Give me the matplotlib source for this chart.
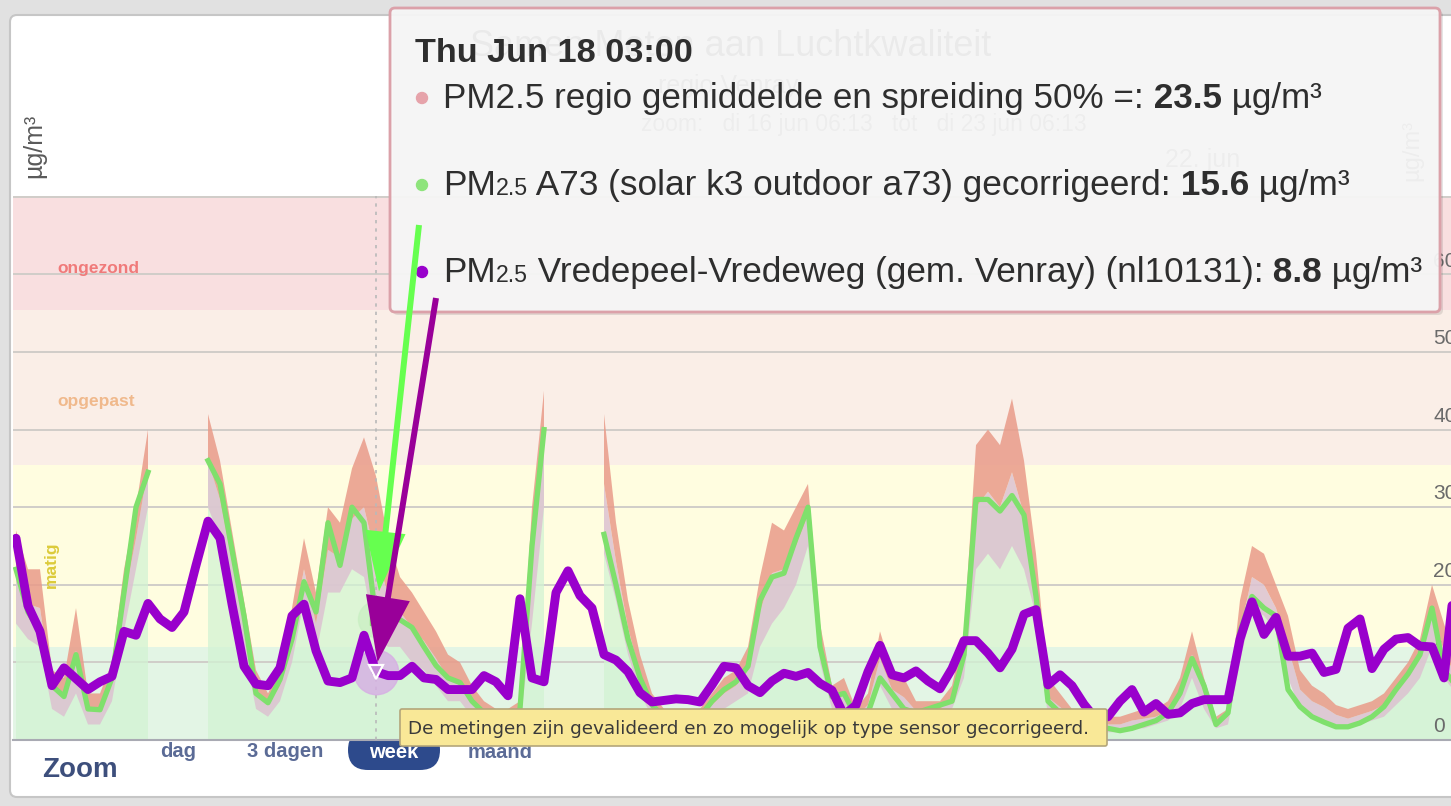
"""
Nabouw van een Highcharts-screenshot: PM2.5 in regio Venray (week 16-23 juni).
Paars = station Vredepeel, groen = sensor A73, rood/roze = regio gemiddelde + spreiding.
"""
import numpy as np
import matplotlib

matplotlib.use("Agg")
import matplotlib.pyplot as plt
from matplotlib.patches import Circle, FancyBboxPatch

plt.rcParams["font.family"] = ["Liberation Sans", "DejaVu Sans"]

nan = np.nan

# --------------------------------------------------------------------------- #
# Data (µg/m³), één waarde per 1.5 uur, afgelezen uit de screenshot
# --------------------------------------------------------------------------- #
STAP_UUR = 1.5

station = [
    26, 17.3, 14, 7, 9.3, 7.9, 6.5, 7.5, 8.2, 14,
    13.5, 17.6, 15.6, 14.5, 16.5, 22.5, 28.2, 26, 17.5, 9.5,
    7.2, 7, 9.3, 16, 17.5, 11.5, 7.6, 7.4, 8, 13.5,
    8.8, 8.3, 8.3, 9.5, 8, 7.8, 6.5, 6.5, 6.5, 8.3,
    7.5, 5.7, 18.2, 8, 7.5, 19, 21.8, 18.6, 17, 11,
    10.3, 8.8, 6.1, 4.9, 5.1, 5.3, 5.2, 4.9, 7.1, 9.5,
    9.3, 7, 6.1, 7.6, 8.6, 8.2, 8.7, 7.3, 6.4, 3.2,
    4.5, 8.8, 12.2, 8.4, 8, 8.9, 7.6, 6.6, 9.2, 12.8,
    12.8, 11.2, 9.3, 11.7, 16.2, 16.8, 7.1, 8.4, 7, 4.6,
    2.7, 3, 5, 6.5, 3.6, 4.7, 3.3, 3.5, 4.7, 5.2,
    5.2, 5.2, 13, 17.8, 13.6, 15.8, 10.8, 10.8, 11.2, 8.7,
    9.1, 14.4, 15.6, 9.2, 11.7, 13, 13.2, 12.1, 12, 8,
    22,
]

sensor = [
    22, 16.5, 14, 7, 5.6, 11, 4, 3.9, 8, 19,
    30, 34.5, nan, nan, nan, nan, 36, 33, 24.5, 16,
    6, 4.8, 7.8, 13, 20.4, 16.5, 28, 22.5, 30, 28,
    15.6, 16, 15.5, 14.5, 12, 9.6, 8, 7.4, 5, 3.5,
    3, 2.5, 4, 25, 40, nan, nan, nan, nan, 26.5,
    20, 13, 8, 4.5, 3, 2.5, 2.5, 3, 5, 6.5,
    7.5, 9.5, 18, 21, 21.5, 26, 30, 12, 5.6, 6,
    3, 3.5, 8, 6, 4, 3.5, 4, 4.5, 5, 11,
    31, 31, 29.5, 31.5, 29, 18.5, 5, 3.5, 2.5, 2,
    1.5, 1.5, 1.2, 1.5, 2, 2.5, 3.5, 6, 10.5, 7,
    2, 3.5, 14, 18.5, 17, 16, 6.5, 4.3, 3, 2.3,
    1.7, 1.7, 2.2, 3, 4.3, 6.5, 8.5, 11, 17, 9,
    7,
]

regio_hoog = [
    27, 22, 22, 9, 8, 17, 6, 6, 10, 22,
    30, 40, nan, nan, nan, nan, 42, 36, 27, 18,
    9, 6, 9, 17, 26, 19, 30, 28, 35, 39,
    34, 26, 21, 19, 16.5, 14, 11, 10, 7, 5,
    4, 4, 5, 30, 45, nan, nan, nan, nan, 42,
    28, 18, 11, 6, 4, 3.5, 3.5, 4, 6, 8,
    9, 12, 21, 28, 27, 30, 33, 15, 7, 8,
    4, 6, 14, 9, 8, 5, 5, 5, 7, 14,
    38, 40, 38, 44, 36, 24, 8, 6, 4, 4,
    3.5, 3, 3, 3.5, 4, 4, 5, 8, 14, 8,
    3, 4, 18, 25, 24, 20, 16, 9, 7, 6,
    4.5, 4, 4.5, 5, 6, 8, 10, 13, 20, 15,
    10,
]

regio_laag = [
    15, 13, 12, 4, 3, 6, 2, 2, 5, 14,
    22, 30, nan, nan, nan, nan, 30, 26, 19, 12,
    4, 3, 5, 10, 18, 11, 19, 19, 22, 21,
    13, 12, 12, 10, 9, 7, 5, 5, 3, 2,
    1.5, 1.5, 2, 15, 30, nan, nan, nan, nan, 24,
    18, 11, 6, 3, 1.5, 1.5, 1.5, 2, 3, 4,
    5, 6, 12, 15, 17, 20, 25, 10, 4, 4,
    2, 3, 7, 4, 3, 2.5, 2.5, 3, 4, 8,
    22, 24, 22, 25, 22, 16, 3, 2.5, 2, 1.5,
    1, 1, 1, 1.5, 1.5, 2, 2.5, 4, 8, 4,
    1.5, 2, 10, 17, 16, 14, 8, 4, 3, 2.5,
    2, 1.5, 2, 2.5, 3, 4.5, 6, 8, 12, 8,
    6,
]

uren = np.arange(len(station)) * STAP_UUR
HOVER = 30  # Thu Jun 18 03:00

band_grenzen = [0, 12, 35.4, 55.4, 150]
band_kleuren = ["#e3f5e5", "#fffde0", "#faeee7", "#f9dfe0"]
y_ticks = [0, 10, 20, 30, 40, 50, 60]

station = np.array(station, dtype=float)
sensor = np.array(sensor, dtype=float)
hoog = np.array(regio_hoog, dtype=float)
laag = np.array(regio_laag, dtype=float)
midden = (hoog + laag) / 2

# --------------------------------------------------------------------------- #
# Opmaak (alles in schermpixels van de screenshot)
# --------------------------------------------------------------------------- #
W, H = 1451, 806
PX_PER_UUR = 8
T0_PX = 16
PLOT_L, PLOT_T, PLOT_R, PLOT_B = 13, 196, 1451, 740

fig = plt.figure(figsize=(W / 100, H / 100), dpi=100, facecolor="#e1e1e1")


def pixel_axes(l, t, r, b, z):
    return fig.add_axes([l / W, 1 - b / H, (r - l) / W, (b - t) / H], zorder=z)


# achtergrond: kaart, titels, zoomknoppen
bg = pixel_axes(0, 0, W, H, 0)
bg.set_xlim(0, W); bg.set_ylim(H, 0); bg.axis("off")
bg.add_patch(FancyBboxPatch((10, 15), 1470, 782, boxstyle="round,pad=0,rounding_size=7",
                            fc="white", ec="#c6c6c6", lw=1.5))
bg.text(731, 47, "Samen Meten aan Luchtkwaliteit", fontsize=26, color="#333333",
        ha="center", va="center")
bg.text(728, 86, "regio Venray", fontsize=18, color="#555555", ha="center", va="center")
bg.text(864, 125, "zoom:   di 16 jun 06:13   tot   di 23 jun 06:13", fontsize=16.5,
        color="#666666", ha="center", va="center")
bg.text(1203, 160, "22. jun", fontsize=18, color="#666666", ha="center", va="center")
bg.text(1412, 150, "µg/m³", fontsize=17, color="#666666", rotation=90, ha="center", va="center")
bg.text(34, 146, "µg/m³", fontsize=18, color="#5a5a5a", rotation=90, ha="center", va="center")

bg.text(42, 777, "Zoom", fontsize=20, fontweight="bold", color="#3d4f7c", va="baseline")
bg.text(160, 757, "dag", fontsize=14.5, fontweight="bold", color="#5b6b96", va="baseline")
bg.text(247, 757, "3 dagen", fontsize=14.5, fontweight="bold", color="#5b6b96", va="baseline")
bg.add_patch(FancyBboxPatch((348, 730), 92, 40, boxstyle="round,pad=0,rounding_size=20",
                            fc="#2d4a8c", ec="none"))
bg.text(394, 758, "week", fontsize=14.5, fontweight="bold", color="white", ha="center",
        va="baseline")
bg.text(468, 758, "maand", fontsize=14.5, fontweight="bold", color="#5b6b96", va="baseline")

# grafiek
ax = pixel_axes(PLOT_L, PLOT_T, PLOT_R, PLOT_B, 1)
ax.set_xlim((PLOT_L - T0_PX) / PX_PER_UUR, (PLOT_R - T0_PX) / PX_PER_UUR)
ax.set_ylim(0, 70.1)
for i, kleur in enumerate(band_kleuren):
    ax.axhspan(band_grenzen[i], band_grenzen[i + 1], color=kleur, lw=0, zorder=0)
for v in range(10, 71, 10):
    ax.axhline(v, color="#d0cdc9", lw=1.4, zorder=0.5)
for s in ["top", "left", "right"]:
    ax.spines[s].set_visible(False)
ax.spines["bottom"].set_color("#a9aab3")
ax.spines["bottom"].set_linewidth(1.5)
ax.set_xticks([]); ax.set_yticks([])

ytrans = ax.get_yaxis_transform()
for v in y_ticks:
    ax.text(0.9875, v + 1.7, str(v), transform=ytrans, fontsize=15, color="#6a6a6a",
            va="center", ha="left", clip_on=False)
ax.text(0.031, 60.8, "ongezond", transform=ytrans, fontsize=12.5, fontweight="bold",
        color="#f07a7a", va="center")
ax.text(0.031, 43.6, "opgepast", transform=ytrans, fontsize=12.5, fontweight="bold",
        color="#f0b98c", va="center")
ax.text(0.027, 22.6, "matig", transform=ytrans, fontsize=12.5, fontweight="bold",
        color="#dccb3a", va="center", ha="center", rotation=90)

ax.fill_between(uren, 0, sensor, color="#d2f3d3", alpha=0.75, lw=0, zorder=1)
ax.fill_between(uren, laag, midden, color="#dcc2d1", alpha=0.85, lw=0, zorder=2)
ax.fill_between(uren, midden, hoog, color="#e99b89", alpha=0.85, lw=0, zorder=2)
ax.plot(uren, sensor, color="#7fe06c", lw=3.8, zorder=3, solid_joinstyle="round")
ax.axvline(uren[HOVER], color="#b9b9b9", lw=1.2, ls=(0, (2, 3)), zorder=3.2)

# hover-markers
ax.plot(uren[HOVER], sensor[HOVER], "o", ms=26, color="#c8efc2", alpha=0.7, zorder=3.3)
ax.plot(uren[HOVER], station[HOVER], "o", ms=32, color="#d7aee4", alpha=0.8, zorder=3.4)
ax.plot(uren, station, color="#9900cc", lw=6.4, zorder=4, solid_joinstyle="round",
        solid_capstyle="round")
ax.plot(uren[HOVER], sensor[HOVER], "s", ms=9, color="#86d96f", zorder=4.5)
ax.plot(uren[HOVER], station[HOVER], "v", ms=10, mfc="#c48ed8", mec="white", mew=1.6,
        zorder=4.6)

# overlay: tooltips en pijlen
ov = pixel_axes(0, 0, W, H, 3)
ov.set_xlim(0, W); ov.set_ylim(H, 0); ov.axis("off")

ov.add_patch(FancyBboxPatch((393, 11), 1050, 304, boxstyle="round,pad=0,rounding_size=5",
                            fc=(0, 0, 0, 0.10), ec="none"))
ov.add_patch(FancyBboxPatch((390, 8), 1050, 304, boxstyle="round,pad=0,rounding_size=5",
                            fc=(0.97, 0.97, 0.97, 0.94), ec="#dba1a9", lw=2))

ov.add_patch(FancyBboxPatch((400, 709), 707, 37, boxstyle="round,pad=0,rounding_size=2",
                            fc="#f9e897", ec="#b4a67a", lw=1.2))

renderer = fig.canvas.get_renderer()


def tekstregel(x, y, delen, breedte, basis=20.0, **kw):
    """Zet tekststukken naast elkaar en schaal ze zodat de regel `breedte` px breed wordt."""
    def zet(grootte):
        stukken, cx = [], x
        for s, rel, vet in delen:
            t = ov.text(cx, y, s, fontsize=grootte * rel, va="baseline", ha="left",
                        fontweight="bold" if vet else "normal", **kw)
            cx += t.get_window_extent(renderer).width
            stukken.append(t)
        return stukken, cx - x

    stukken, w = zet(basis)
    for t in stukken:
        t.remove()
    zet(basis * breedte / w)


TXT = dict(color="#2e2e2e")
tekstregel(415, 62, [("Thu Jun 18 03:00", 1, True)], 278, **TXT)
tekstregel(443, 108, [("PM2.5 regio gemiddelde en spreiding 50% =:", 1, False),
                      (f" {midden[HOVER]:.1f}", 1, True), (" µg/m³", 1, False)], 875, **TXT)
tekstregel(443, 195, [("PM", 1, False), ("2.5", 0.66, False),
                      (" A73 (solar k3 outdoor a73) gecorrigeerd:", 1, False),
                      (f" {sensor[HOVER]:.1f}", 1, True), (" µg/m³", 1, False)], 905, **TXT)
tekstregel(443, 282, [("PM", 1, False), ("2.5", 0.66, False),
                      (" Vredepeel-Vredeweg (gem. Venray) (nl10131):", 1, False),
                      (f" {station[HOVER]:.1f}", 1, True), (" µg/m³", 1, False)], 977, **TXT)
tekstregel(408, 734, [("De metingen zijn gevalideerd en zo mogelijk op type sensor gecorrigeerd.",
                       1, False)], 687, basis=11, family="DejaVu Sans", color="#3a3a3a")

for y, kleur in [(98, "#e6a3aa"), (185, "#8ee47c"), (272, "#9900cc")]:
    ov.add_patch(Circle((422, y), 5.5, color=kleur))

# pijlen naar de hover-punten
ov.annotate("", xy=(uren[HOVER], sensor[HOVER]), xycoords=ax.transData,
            xytext=(419, 225), textcoords=ov.transData,
            arrowprops=dict(arrowstyle="simple,head_length=43,head_width=29,tail_width=4.3",
                            mutation_scale=1, fc="#66ff4f", ec="none", shrinkA=0, shrinkB=20))
ov.annotate("", xy=(uren[HOVER], station[HOVER]), xycoords=ax.transData,
            xytext=(436, 298), textcoords=ov.transData,
            arrowprops=dict(arrowstyle="simple,head_length=47,head_width=32,tail_width=4.3",
                            mutation_scale=1, fc="#990099", ec="none", shrinkA=0, shrinkB=7))

fig.savefig("out.png", dpi=100, facecolor=fig.get_facecolor())
